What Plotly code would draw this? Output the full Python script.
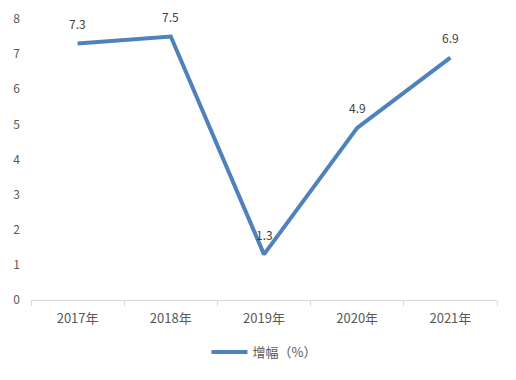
import plotly.graph_objects as go

years = ["2017年", "2018年", "2019年", "2020年", "2021年"]
growth = [7.3, 7.5, 1.3, 4.9, 6.9]
y_ticks = [0, 1, 2, 3, 4, 5, 6, 7, 8]
series_name = "增幅（%）"

font_family = "Noto Sans CJK SC, Open Sans, sans-serif"
text_color = "#595959"

fig = go.Figure()
fig.add_trace(go.Scatter(
    x=years, y=growth, mode="lines", name=series_name,
    line=dict(color="#4f81bd", width=4),
    showlegend=True,
))
for xv, yv in zip(years, growth):
    fig.add_annotation(x=xv, y=yv, text=f"{yv}", showarrow=False,
                       yshift=20, font=dict(size=12, color="#404040", family=font_family))

# page body has an 8px default margin, so the figure is sized to fit the window
fig.update_layout(
    width=508, height=372,
    margin=dict(l=23, r=19, t=11, b=80, autoexpand=False),
    paper_bgcolor="white", plot_bgcolor="white",
    font=dict(family=font_family, size=12, color=text_color),
    xaxis=dict(
        type="category", tickson="boundaries", ticks="outside", ticklen=5,
        tickcolor="#d9d9d9", showline=True, linecolor="#d9d9d9", linewidth=1,
        showgrid=False, range=[-0.5, 4.5], tickfont=dict(size=13, color=text_color),
        automargin=False, ticklabelstandoff=6,
    ),
    yaxis=dict(
        range=[0, 8], tickvals=y_ticks, showgrid=False, zeroline=False,
        showline=False, tickfont=dict(size=12, color=text_color), ticklabelstandoff=10,
        automargin=False,
    ),
    legend=dict(orientation="h", x=0.5, xanchor="center", y=-0.185, yanchor="middle",
                font=dict(size=13, color=text_color), itemwidth=36),
)

fig.write_html("out.html")
